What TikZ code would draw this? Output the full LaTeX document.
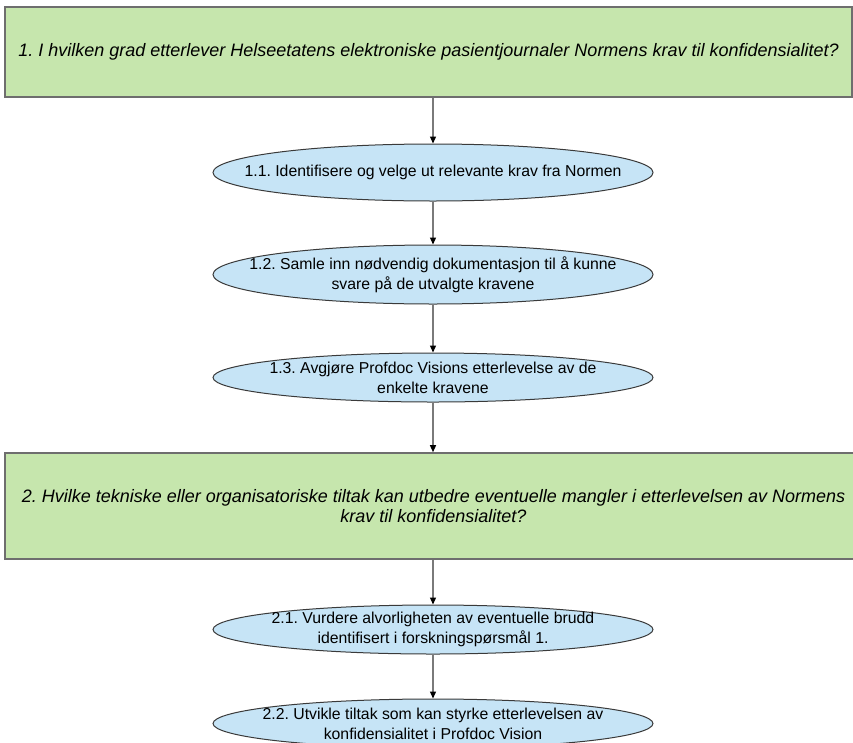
\documentclass[tikz,border=0pt]{standalone}
\usepackage{fontspec}
\setmainfont{Liberation Sans}
\usetikzlibrary{shapes.geometric,arrows.meta}
\definecolor{qgreen}{HTML}{C6E6AD}
\definecolor{qblue}{HTML}{C6E4F6}
\definecolor{qborder}{HTML}{6E6E6E}
\definecolor{eborder}{HTML}{3A3A3A}
\definecolor{qline}{HTML}{7A7A7A}
\frenchspacing
\begin{document}
\begin{tikzpicture}[x=1pt,y=-1pt,
  qbox/.style={draw=qborder,line width=1.6pt,fill=qgreen,rectangle,inner sep=0pt,
    font=\fontsize{18}{20.5}\selectfont\itshape,align=center},
  stepell/.style={draw=eborder,line width=1pt,fill=qblue,ellipse,inner xsep=-80pt,inner ysep=-12pt,
    minimum width=440pt,font=\fontsize{15.8}{20}\selectfont,align=center},
  conn/.style={draw=qline,line width=1.3pt,-{Triangle[length=7pt,width=6pt,color=black]}}]
\useasboundingbox (0,0) rectangle (853,742);
\clip (0,0) rectangle (853,742);
\fill[white] (0,0) rectangle (853,742);
\node[qbox,minimum width=847pt,minimum height=90pt] (q1) at (428.5,52)
  {1. I hvilken grad etterlever Helseetatens elektroniske pasientjournaler Normens krav til konfidensialitet?};
\node[stepell,minimum height=57pt] (s11) at (433,172.5)
  {1.1. Identifisere og velge ut relevante krav fra Normen};
\node[stepell,minimum height=59pt] (s12) at (433,274.5)
  {1.2. Samle inn nødvendig dokumentasjon til å kunne\\svare på de utvalgte kravene};
\node[stepell,minimum height=49pt] (s13) at (433,377.5)
  {1.3. Avgjøre Profdoc Visions etterlevelse av de\\enkelte kravene};
\node[qbox,minimum width=857pt,minimum height=106pt] (q2) at (433.5,506)
  {2. Hvilke tekniske eller organisatoriske tiltak kan utbedre eventuelle mangler i etterlevelsen av Normens\\krav til konfidensialitet?};
\node[stepell,minimum height=49pt] (s21) at (433,629.5)
  {2.1. Vurdere alvorligheten av eventuelle brudd\\identifisert i forskningspørsmål 1.};
\node[stepell,minimum height=49pt] (s22) at (433,723.5)
  {2.2. Utvikle tiltak som kan styrke etterlevelsen av\\konfidensialitet i Profdoc Vision};
\draw[conn] (q1.south -| s11.north) -- (s11.north);
\draw[conn] (s11.south) -- (s12.north);
\draw[conn] (s12.south) -- (s13.north);
\draw[conn] (s13.south) -- (s13.south |- q2.north);
\draw[conn] (s21.north |- q2.south) -- (s21.north);
\draw[conn] (s21.south) -- (s22.north);
\end{tikzpicture}
\end{document}
